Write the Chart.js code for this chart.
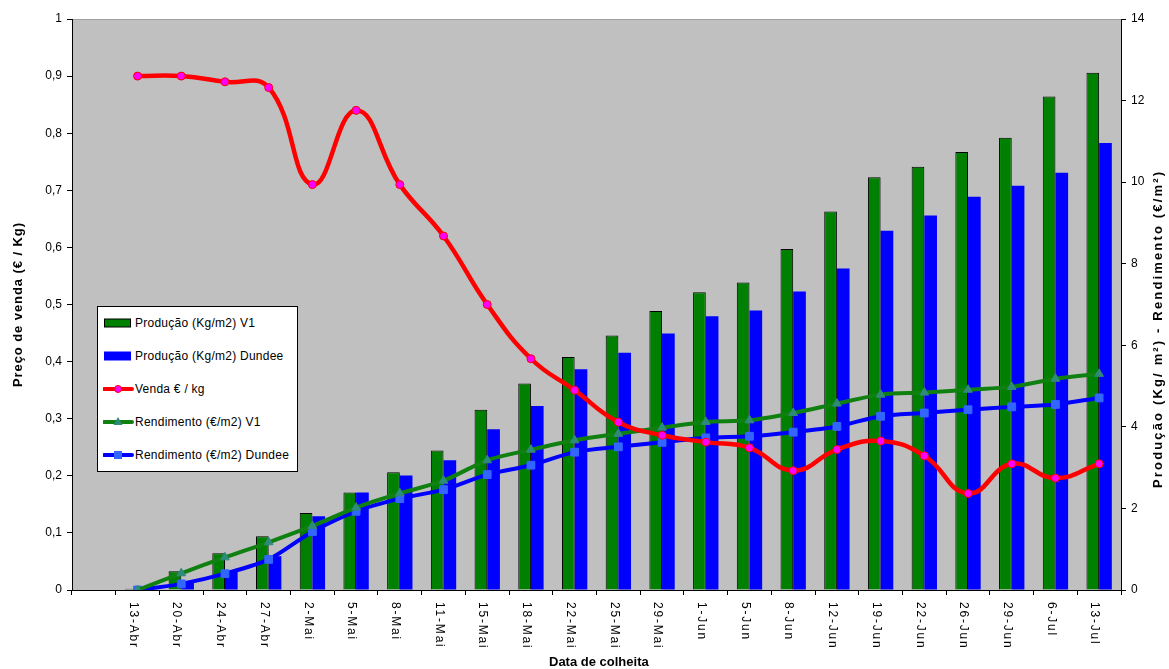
<!DOCTYPE html>
<html>
<head>
<meta charset="utf-8">
<script src="https://cdn.jsdelivr.net/npm/chart.js@4.4.1/dist/chart.umd.min.js"></script>
<style>
  html, body { margin: 0; padding: 0; background: #fff; }
  #wrap { position: relative; width: 1169px; height: 669px; }
  #legend { position: absolute; left: 97px; top: 306px; width: 199px; height: 164px; background: #fff; border: 1px solid #000;
            font-family: "Liberation Sans", Arial, sans-serif; font-size: 12px; color: #000; letter-spacing: 0.25px; }
  .row { position: absolute; left: 5px; height: 14px; display: flex; align-items: center; white-space: nowrap; }
  .row svg { width: 31px; height: 14px; flex: none; }
  .row span { margin-left: 1px; }
</style>
</head>
<body>
<div id="wrap">
  <canvas id="c" width="1169" height="669"></canvas>
  <div id="legend"></div>
</div>
<script>
const categories = ['', '13-Abr','20-Abr','24-Abr','27-Abr','2-Mai','5-Mai','8-Mai','11-Mai','15-Mai','18-Mai','22-Mai','25-Mai','29-Mai','1-Jun','5-Jun','8-Jun','12-Jun','19-Jun','22-Jun','26-Jun','29-Jun','6-Jul','13-Jul'];
const prodV1 = [null, 0.03, 0.46, 0.90, 1.32, 1.89, 2.39, 2.89, 3.42, 4.42, 5.06, 5.71, 6.24, 6.84, 7.30, 7.54, 8.36, 9.28, 10.12, 10.38, 10.74, 11.09, 12.10, 12.68];
const prodDundee = [null, 0, 0.20, 0.45, 0.83, 1.81, 2.39, 2.81, 3.18, 3.94, 4.51, 5.41, 5.82, 6.29, 6.71, 6.85, 7.32, 7.88, 8.81, 9.18, 9.64, 9.91, 10.23, 10.96];
const venda = [null, 0.90, 0.90, 0.89, 0.88, 0.71, 0.84, 0.71, 0.62, 0.50, 0.405, 0.35, 0.294, 0.271, 0.259, 0.249, 0.209, 0.246, 0.261, 0.235, 0.169, 0.221, 0.196, 0.221];
const rendV1 = [null, 0, 0.41, 0.80, 1.17, 1.57, 2.02, 2.37, 2.68, 3.18, 3.44, 3.67, 3.83, 3.98, 4.12, 4.16, 4.34, 4.57, 4.79, 4.84, 4.91, 4.98, 5.18, 5.30];
const rendDundee = [null, 0, 0.15, 0.40, 0.75, 1.43, 1.93, 2.24, 2.46, 2.83, 3.06, 3.38, 3.51, 3.62, 3.73, 3.77, 3.87, 4.01, 4.26, 4.34, 4.42, 4.49, 4.55, 4.71];
const seriesNames = ['Produção (Kg/m2) V1', 'Produção (Kg/m2) Dundee', 'Venda € / kg', 'Rendimento (€/m2) V1', 'Rendimento (€/m2) Dundee'];
const xTitle = 'Data de colheita';
const yLeftTitle = 'Preço de venda (€ / Kg)';
const yRightTitle = 'Produção (Kg/ m²) - Rendimento (€/m²)';

const FONT = '"Liberation Sans", Arial, sans-serif';

function spacingFor(ctx, text, target) {
  ctx.letterSpacing = '0px';
  const w = ctx.measureText(text).width;
  return Math.max(0, (target - w) / Math.max(1, text.length - 1));
}

const bgPlugin = {
  id: 'bg',
  beforeDraw(chart) {
    const {ctx, chartArea: a} = chart;
    ctx.save();
    ctx.fillStyle = '#C0C0C0';
    ctx.fillRect(a.left, a.top, a.right - a.left, a.bottom - a.top);
    ctx.strokeStyle = '#A0A0A0';
    ctx.lineWidth = 1;
    ctx.beginPath();
    ctx.moveTo(a.left, a.top + 0.5);
    ctx.lineTo(a.right, a.top + 0.5);
    ctx.stroke();
    ctx.restore();
  },
  afterDraw(chart) {
    const {ctx, chartArea: a} = chart;
    const xs = chart.scales.x;
    ctx.save();
    ctx.fillStyle = '#000';
    ctx.font = '12px ' + FONT;
    const sp = spacingFor(ctx, '13-Abr', 45);
    categories.forEach((c, i) => {
      if (!c) return;
      const px = xs.getPixelForValue(i) - 4.5;
      ctx.save();
      ctx.letterSpacing = sp + 'px';
      ctx.translate(px, 602);
      ctx.rotate(Math.PI / 2);
      ctx.textAlign = 'left';
      ctx.textBaseline = 'middle';
      ctx.fillText(c, 0, 0);
      ctx.restore();
    });
    ctx.font = 'bold 13px ' + FONT;
    ctx.textAlign = 'left';
    ctx.textBaseline = 'middle';
    let s = spacingFor(ctx, xTitle, 99);
    ctx.letterSpacing = s + 'px';
    ctx.fillText(xTitle, 549, 662);
    ctx.save();
    s = spacingFor(ctx, yLeftTitle, 164);
    ctx.letterSpacing = s + 'px';
    ctx.translate(18, 387);
    ctx.rotate(-Math.PI / 2);
    ctx.fillText(yLeftTitle, 0, 0);
    ctx.restore();
    ctx.save();
    s = spacingFor(ctx, yRightTitle, 316);
    ctx.letterSpacing = s + 'px';
    ctx.translate(1158, 488);
    ctx.rotate(-Math.PI / 2);
    ctx.fillText(yRightTitle, 0, 0);
    ctx.restore();
    ctx.restore();
  }
};

const chart = new Chart(document.getElementById('c'), {
  data: {
    labels: categories,
    datasets: [
      { type: 'bar', label: seriesNames[0], data: prodV1, yAxisID: 'y1', backgroundColor: '#008000', borderColor: '#000', borderWidth: 1, order: 4, categoryPercentage: 0.58, barPercentage: 1 },
      { type: 'bar', label: seriesNames[1], data: prodDundee, yAxisID: 'y1', backgroundColor: '#0000FF', borderWidth: 0, order: 5, categoryPercentage: 0.58, barPercentage: 1 },
      { type: 'line', label: seriesNames[2], data: venda, yAxisID: 'y', borderColor: '#FF0000', borderWidth: 4.5, tension: 0.45, pointStyle: 'circle', pointRadius: 4, pointBackgroundColor: '#FF00FF', pointBorderColor: '#FF0000', pointBorderWidth: 1, order: 1 },
      { type: 'line', label: seriesNames[3], data: rendV1, yAxisID: 'y1', borderColor: '#108010', borderWidth: 4, tension: 0.3, pointStyle: 'triangle', pointRadius: 5, pointBackgroundColor: '#2E8B7A', pointBorderColor: '#2E8B7A', pointBorderWidth: 1, order: 2 },
      { type: 'line', label: seriesNames[4], data: rendDundee, yAxisID: 'y1', borderColor: '#0000FF', borderWidth: 4, tension: 0.3, pointStyle: 'rect', pointRadius: 5.5, pointBackgroundColor: '#3366FF', pointBorderColor: '#3366FF', pointBorderWidth: 1, order: 3 }
    ]
  },
  options: {
    responsive: false,
    animation: false,
    events: [],
    layout: { padding: { top: 19, left: 0, right: 0, bottom: 0 } },
    plugins: { legend: { display: false }, tooltip: { enabled: false } },
    scales: {
      x: {
        type: 'category',
        offset: true,
        grid: { display: true, offset: true, drawOnChartArea: false, drawTicks: true, tickLength: 5, color: '#000' },
        border: { display: true, color: '#000', width: 1 },
        ticks: { display: false },
        afterFit(s) { s.height = 79; }
      },
      y: {
        position: 'left',
        min: 0, max: 1,
        grid: { display: true, drawOnChartArea: false, drawTicks: true, tickLength: 5, color: '#000' },
        border: { display: true, color: '#000', width: 1 },
        ticks: { stepSize: 0.1, padding: 5, color: '#000', font: { family: FONT, size: 12 },
                 callback: v => (Math.round(v * 10) / 10).toString().replace('.', ',') },
        afterFit(s) { s.width = 72; }
      },
      y1: {
        position: 'right',
        min: 0, max: 14,
        grid: { display: true, drawOnChartArea: false, drawTicks: true, tickLength: 5, color: '#000' },
        border: { display: true, color: '#000', width: 1 },
        ticks: { stepSize: 2, padding: 5, color: '#000', font: { family: FONT, size: 12 } },
        afterFit(s) { s.width = 48; }
      }
    }
  },
  plugins: [bgPlugin]
});

const swatches = [
  '<svg viewBox="0 0 31 14"><rect x="1.5" y="3" width="26" height="8" fill="#008000" stroke="#000" stroke-width="1"/></svg>',
  '<svg viewBox="0 0 31 14"><rect x="1" y="2.5" width="27" height="9" fill="#0000FF"/></svg>',
  '<svg viewBox="0 0 31 14"><line x1="1" y1="7" x2="29" y2="7" stroke="#FF0000" stroke-width="4" stroke-linecap="round"/><circle cx="15" cy="7" r="3.5" fill="#FF00FF" stroke="#FF0000" stroke-width="1"/></svg>',
  '<svg viewBox="0 0 31 14"><line x1="1" y1="7" x2="29" y2="7" stroke="#108010" stroke-width="4" stroke-linecap="round"/><polygon points="15,2 19.5,10 10.5,10" fill="#2E8B7A"/></svg>',
  '<svg viewBox="0 0 31 14"><line x1="1" y1="7" x2="29" y2="7" stroke="#0000FF" stroke-width="4" stroke-linecap="round"/><rect x="11" y="3" width="8" height="8" fill="#3366FF"/></svg>'
];
const rowY = [322.7, 355.5, 389, 422, 455];
const lg = document.getElementById('legend');
seriesNames.forEach((n, i) => {
  const d = document.createElement('div');
  d.className = 'row';
  d.style.top = (rowY[i] - 307 - 7) + 'px';
  d.innerHTML = swatches[i] + '<span>' + n + '</span>';
  lg.appendChild(d);
});
</script>
</body>
</html>
